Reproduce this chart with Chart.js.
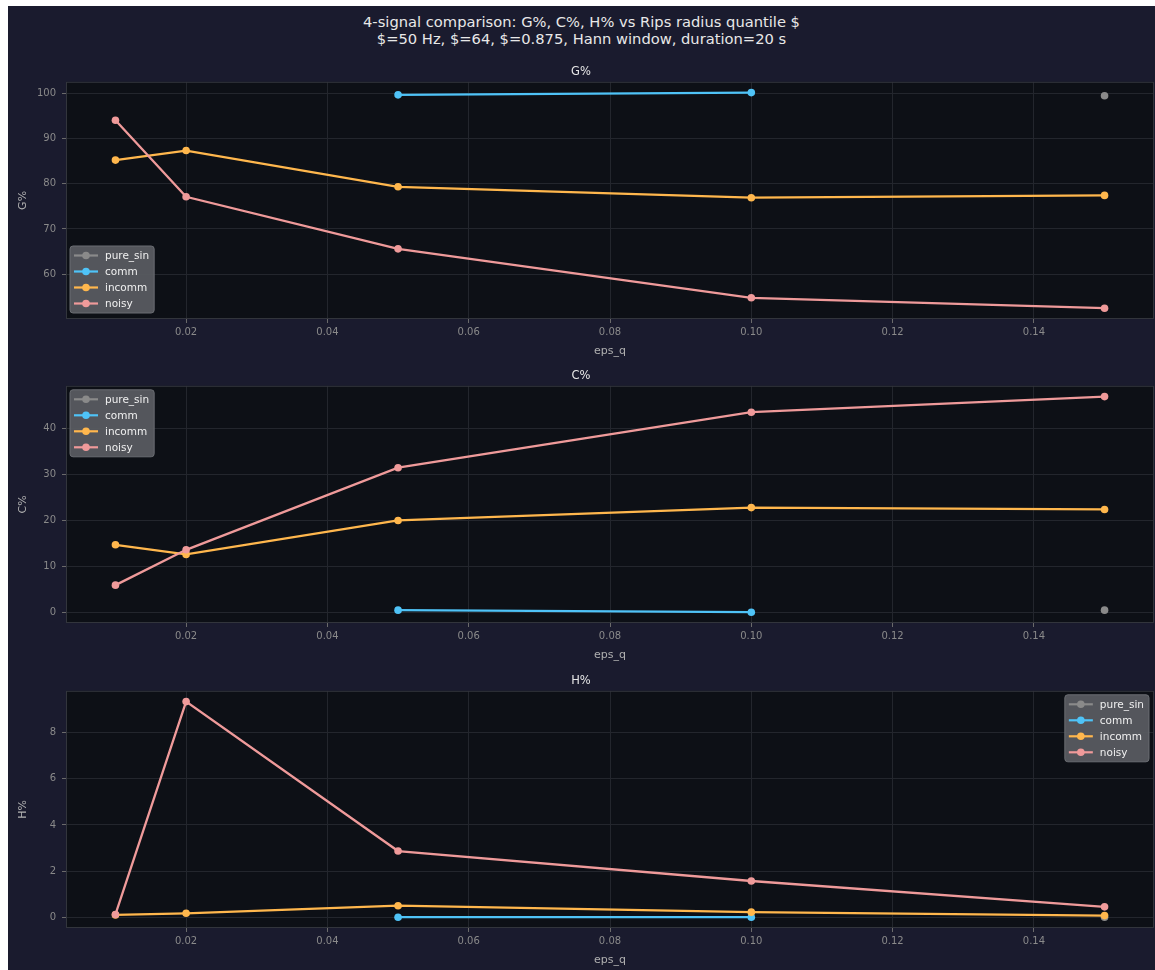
<!DOCTYPE html>
<html>
<head>
<meta charset="utf-8">
<title>4-signal comparison</title>
<script src="https://cdn.jsdelivr.net/npm/chart.js@4.4.1/dist/chart.umd.min.js"></script>
<style>
  body { margin: 0; background: #ffffff; }
  #fig { position: absolute; left: 8px; top: 6px; width: 1147px; height: 964px; background: #1a1b2e; }
  #suptitle {
    position: absolute; left: 0; top: 8px; width: 1147px; text-align: center;
    color: #e8e8e8; font-family: 'DejaVu Sans', sans-serif; font-size: 14.7px; line-height: 16.5px;
  }
  .panel { position: absolute; left: 0; width: 1147px; height: 300px; }
</style>
</head>
<body>
<div id="fig">
  <div id="suptitle">4-signal comparison: G%, C%, H% vs Rips radius quantile $<br>$=50 Hz, $=64, $=0.875, Hann window, duration=20 s</div>
  <div class="panel" style="top:54px"><canvas id="gChart"></canvas></div>
  <div class="panel" style="top:358px"><canvas id="cChart"></canvas></div>
  <div class="panel" style="top:663px"><canvas id="hChart"></canvas></div>
</div>
<script>
// eps_q sweep values shared by every panel
const epsQ = [0.01, 0.02, 0.05, 0.10, 0.15];
const seriesNames = ['pure_sin', 'comm', 'incomm', 'noisy'];
const seriesColors = ['#8a8a8a', '#4fc3f7', '#ffb74d', '#ef9a9a'];

// G% per signal (null = no result at that quantile)
const gPureSin = [null, null, null, null, 99.4];
const gComm    = [null, null, 99.6, 100.1, null];
const gIncomm  = [85.2, 87.3, 79.3, 76.9, 77.4];
const gNoisy   = [94.0, 77.1, 65.6, 54.8, 52.5];

// C% per signal
const cPureSin = [null, null, null, null, 0.45];
const cComm    = [null, null, 0.45, 0.0, null];
const cIncomm  = [14.7, 12.6, 20.0, 22.8, 22.4];
const cNoisy   = [5.9, 13.6, 31.5, 43.6, 47.0];

// H% per signal
const hPureSin = [null, null, null, null, 0.0];
const hComm    = [null, null, 0.0, 0.0, null];
const hIncomm  = [0.10, 0.17, 0.50, 0.22, 0.07];
const hNoisy   = [0.12, 9.35, 2.87, 1.57, 0.45];

const xTicks = [0.02, 0.04, 0.06, 0.08, 0.10, 0.12, 0.14];
const gTicks = [60, 70, 80, 90, 100];
const cTicks = [0, 10, 20, 30, 40];
const hTicks = [0, 2, 4, 6, 8];

const FONT = "'DejaVu Sans', sans-serif";
const GRID = '#23262d';
const SPINE = '#32353c';

// 5% padding on each side, same as default autoscale margins
function paddedRange(values) {
  const v = values.filter(d => d !== null);
  const lo = Math.min(...v), hi = Math.max(...v);
  const pad = (hi - lo) * 0.05;
  return [lo - pad, hi + pad];
}

// dark plot area + four-sided frame
const plotFrame = {
  id: 'plotFrame',
  beforeDraw(chart) {
    const { ctx, chartArea: a } = chart;
    ctx.save();
    ctx.fillStyle = '#0d1016';
    ctx.fillRect(a.left, a.top, a.right - a.left, a.bottom - a.top);
    ctx.restore();
  },
  afterDatasetsDraw(chart) {
    const { ctx, chartArea: a } = chart;
    ctx.save();
    ctx.strokeStyle = SPINE;
    ctx.lineWidth = 1;
    ctx.strokeRect(a.left + 0.5, a.top + 0.5, a.right - a.left - 1, a.bottom - a.top - 1);
    ctx.restore();
  }
};

// legend box drawn inside the plot area
const insideLegend = {
  id: 'insideLegend',
  afterDraw(chart, args, opts) {
    const { ctx, chartArea: a } = chart;
    const sets = chart.data.datasets;
    ctx.save();
    ctx.font = '10.5px ' + FONT;
    const textW = Math.max(...sets.map(ds => ctx.measureText(ds.label).width));
    const w = 35 + textW + 5, h = 67, rowH = 16;
    let x, y;
    if (opts.corner === 'lowerLeft') { x = a.left + 4; y = a.bottom - 6 - h; }
    else if (opts.corner === 'upperLeft') { x = a.left + 4; y = a.top + 4; }
    else { x = a.right - 5 - w; y = a.top + 4; }

    ctx.beginPath();
    ctx.roundRect(x, y, w, h, 3);
    ctx.fillStyle = 'rgba(88, 91, 96, 0.95)';
    ctx.fill();
    ctx.strokeStyle = '#6a6d72';
    ctx.lineWidth = 1;
    ctx.stroke();

    ctx.textBaseline = 'middle';
    sets.forEach((ds, i) => {
      const cy = y + 9.5 + i * rowH;
      ctx.strokeStyle = ds.borderColor;
      ctx.lineWidth = 2.2;
      ctx.beginPath();
      ctx.moveTo(x + 4, cy);
      ctx.lineTo(x + 28, cy);
      ctx.stroke();
      ctx.fillStyle = ds.borderColor;
      ctx.beginPath();
      ctx.arc(x + 16, cy, 3.8, 0, Math.PI * 2);
      ctx.fill();
      ctx.fillStyle = '#f0f0f0';
      ctx.fillText(ds.label, x + 35, cy + 0.5);
    });
    ctx.restore();
  }
};

function makePanel(canvasId, title, yLabel, series, yTicks, corner) {
  const ctx = document.getElementById(canvasId);
  const [xMin, xMax] = paddedRange(epsQ);
  const [yMin, yMax] = paddedRange(series.flat());

  const datasets = series.map((vals, i) => ({
    label: seriesNames[i],
    data: epsQ.map((x, j) => ({ x: x, y: vals[j] })),
    borderColor: seriesColors[i],
    backgroundColor: seriesColors[i],
    borderWidth: 2.3,
    pointRadius: 3.8,
    pointHoverRadius: 3.8,
    pointBorderWidth: 0,
    spanGaps: false,
    tension: 0,
    order: series.length - i   // later series on top
  }));

  new Chart(ctx, {
    type: 'line',
    data: { datasets: datasets },
    plugins: [plotFrame, insideLegend],
    options: {
      responsive: true,
      maintainAspectRatio: false,
      animation: false,
      layout: { autoPadding: false, padding: { left: 0, right: 1, top: 0, bottom: 0 } },
      plugins: {
        legend: { display: false },
        tooltip: { enabled: false },
        title: {
          display: true,
          text: title,
          color: '#e6e6e6',
          font: { family: FONT, size: 11.5, weight: 'normal' },
          padding: { top: 5, bottom: 3 }
        },
        insideLegend: { corner: corner }
      },
      scales: {
        x: {
          type: 'linear',
          min: xMin,
          max: xMax,
          afterFit: s => { s.height = 41; },
          afterBuildTicks: s => { s.ticks = xTicks.map(v => ({ value: v })); },
          grid: { color: GRID, tickColor: '#6a6a6a', tickLength: 4 },
          border: { display: false },
          ticks: {
            color: '#8a8a8a',
            padding: 3,
            maxRotation: 0,
            font: { family: FONT, size: 10 },
            callback: v => v.toFixed(2)
          },
          title: {
            display: true,
            text: 'eps_q',
            color: '#b0b0b0',
            font: { family: FONT, size: 11 },
            padding: { top: 0, bottom: 2 }
          }
        },
        y: {
          min: yMin,
          max: yMax,
          afterFit: s => { s.width = 58; },
          afterBuildTicks: s => { s.ticks = yTicks.map(v => ({ value: v })); },
          grid: { color: GRID, tickColor: '#6a6a6a', tickLength: 4 },
          border: { display: false },
          ticks: {
            color: '#8a8a8a',
            padding: 6,
            font: { family: FONT, size: 10 },
            callback: v => String(v)
          },
          title: {
            display: true,
            text: yLabel,
            color: '#b0b0b0',
            font: { family: FONT, size: 11 },
            padding: { top: 9, bottom: 0 }
          }
        }
      }
    }
  });
}

makePanel('gChart', 'G%', 'G%', [gPureSin, gComm, gIncomm, gNoisy], gTicks, 'lowerLeft');
makePanel('cChart', 'C%', 'C%', [cPureSin, cComm, cIncomm, cNoisy], cTicks, 'upperLeft');
makePanel('hChart', 'H%', 'H%', [hPureSin, hComm, hIncomm, hNoisy], hTicks, 'upperRight');
</script>
</body>
</html>
